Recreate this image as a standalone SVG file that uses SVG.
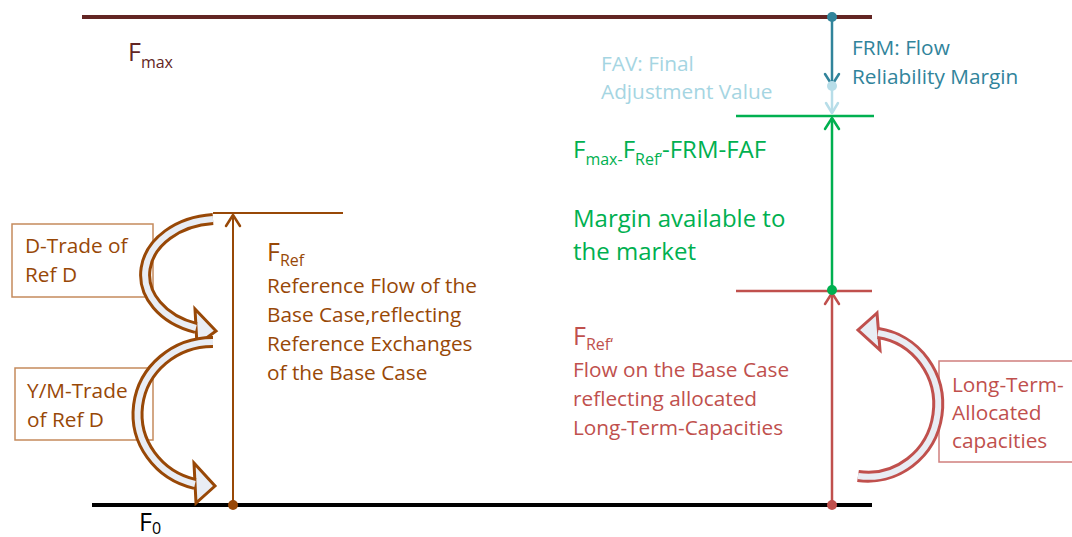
<svg xmlns="http://www.w3.org/2000/svg" width="1072" height="537" viewBox="0 0 1072 537">
<style>
text{font-family:"Open Sans","Noto Sans",sans-serif;}
.t19{font-size:20.8px;}
.big{font-size:25px;}
.sub{font-size:16px;}
.brown{fill:#984807;}
.red{fill:#c0504d;}
.green{fill:#00b050;}
.blue{fill:#31849b;}
.lblue{fill:#a5d5e2;}
.chev{fill:none;stroke-width:2.5;stroke-linecap:round;stroke-linejoin:round;}
.bandO{fill:none;stroke-width:12;}
.bandI{fill:none;stroke:#e9edf4;stroke-width:6;}
.head{fill:#e9edf4;stroke-width:3;stroke-linejoin:miter;}
</style>
<rect width="1072" height="537" fill="#ffffff"/>
<g id="box-dtrade">
  <rect x="12" y="224" width="141" height="73" fill="#ffffff" stroke="#c58a5c" stroke-width="1.5"/>
  <text class="t19 brown" x="25" y="253">D-Trade of</text>
  <text class="t19 brown" x="25" y="282">Ref D</text>
</g>
<g id="box-ymtrade">
  <rect x="15" y="368" width="138" height="72" fill="#ffffff" stroke="#c58a5c" stroke-width="1.5"/>
  <text class="t19 brown" x="27" y="398">Y/M-Trade</text>
  <text class="t19 brown" x="27" y="427">of Ref D</text>
</g>
<g id="box-longterm">
  <rect x="939" y="361" width="140" height="101" fill="#ffffff" stroke="#d07f7d" stroke-width="1.5"/>
  <text class="t19 red" x="952" y="392">Long-Term-</text>
  <text class="t19 red" x="952" y="420">Allocated</text>
  <text class="t19 red" x="952" y="448">capacities</text>
</g>
<g id="connectors">
  <line x1="82" y1="17" x2="872" y2="17" stroke="#632523" stroke-width="4"/>
  <line x1="92" y1="505" x2="872" y2="505" stroke="#000000" stroke-width="4"/>
  <line x1="736" y1="116" x2="874" y2="116" stroke="#00b050" stroke-width="2.5"/>
  <line x1="736" y1="291" x2="872" y2="291" stroke="#c0504d" stroke-width="2.5"/>
  <line x1="213" y1="213" x2="343" y2="213" stroke="#984807" stroke-width="2"/>
  <line x1="233" y1="505" x2="233" y2="215" stroke="#984807" stroke-width="2"/>
  <polyline class="chev" stroke="#984807" points="226,226 233,215 240,226"/>
  <circle cx="233" cy="505" r="5" fill="#984807"/>
  <line x1="832" y1="505" x2="832" y2="293" stroke="#c0504d" stroke-width="2.5"/>
  <polyline class="chev" stroke="#c0504d" points="825,304 832,293 839,304"/>
  <circle cx="832" cy="505" r="5" fill="#c0504d"/>
  <line x1="832" y1="290" x2="832" y2="118" stroke="#00b050" stroke-width="2.5"/>
  <polyline class="chev" stroke="#00b050" points="825,129 832,118 839,129"/>
  <circle cx="832" cy="290" r="5" fill="#00b050"/>
  <line x1="832" y1="17" x2="832" y2="85" stroke="#31849b" stroke-width="2.5"/>
  <polyline class="chev" stroke="#31849b" points="825,74 832,85 839,74"/>
  <circle cx="832" cy="17" r="5" fill="#31849b"/>
  <line x1="832" y1="86" x2="832" y2="113" stroke="#b7dde8" stroke-width="2.5"/>
  <polyline class="chev" stroke="#b7dde8" points="826,103 832,113 838,103"/>
  <circle cx="832" cy="86" r="5" fill="#b7dde8"/>
</g>
<g id="arc-dtrade">
  <polygon class="head" stroke="#984807" points="195,309 216,331 197,345"/>
  <path class="bandO" stroke="#984807" d="M213,219 A74,56 0 0 0 196,328"/>
  <path class="bandI" d="M213,219 A74,56 0 0 0 196,328"/>
</g>
<g id="arc-ymtrade">
  <polygon class="head" stroke="#984807" points="194,463 215,486 196,503"/>
  <path class="bandO" stroke="#984807" d="M213,342 A75,72 0 0 0 195,484"/>
  <path class="bandI" d="M213,342 A75,72 0 0 0 195,484"/>
</g>
<g id="arc-longterm">
  <polygon class="head" stroke="#c0504d" points="877,313 858,330 880,350"/>
  <path class="bandO" stroke="#c0504d" d="M858,476 A70,72 0 0 0 878,333"/>
  <path class="bandI" d="M858,476 A70,72 0 0 0 878,333"/>
</g>
<g id="fmax">
  <text x="128" y="61" style="fill:#632523"><tspan class="big">F</tspan><tspan class="sub" dy="7">max</tspan></text>
</g>
<g id="f0">
  <text x="139" y="531" style="fill:#000"><tspan class="big">F</tspan><tspan class="sub" dy="3">0</tspan></text>
</g>
<g id="frm">
  <text class="t19 blue" x="852" y="55">FRM: Flow</text>
  <text class="t19 blue" x="852" y="84">Reliability Margin</text>
</g>
<g id="fav">
  <text class="t19 lblue" x="601" y="71">FAV: Final</text>
  <text class="t19 lblue" x="601" y="99">Adjustment Value</text>
</g>
<g id="margin">
  <text class="green" x="573" y="158"><tspan style="font-size:24px">F</tspan><tspan style="font-size:16px" dy="7">max-</tspan><tspan style="font-size:24px" dy="-7">F</tspan><tspan style="font-size:16px" dy="7">Ref‘</tspan><tspan style="font-size:24px" dy="-7">-FRM-FAF</tspan></text>
  <text class="green" x="573" y="227" style="font-size:24px">Margin available to</text>
  <text class="green" x="573" y="260" style="font-size:24px">the market</text>
</g>
<g id="fref">
  <text class="brown" x="267" y="261"><tspan class="big">F</tspan><tspan class="sub" dy="5">Ref</tspan></text>
  <text class="t19 brown" x="267" y="293">Reference Flow of the</text>
  <text class="t19 brown" x="267" y="322">Base Case,reflecting</text>
  <text class="t19 brown" x="267" y="351">Reference Exchanges</text>
  <text class="t19 brown" x="267" y="380">of the Base Case</text>
</g>
<g id="frefprime">
  <text class="red" x="573" y="345"><tspan class="big">F</tspan><tspan class="sub" dy="5">Ref‘</tspan></text>
  <text class="t19 red" x="573" y="377">Flow on the Base Case</text>
  <text class="t19 red" x="573" y="406">reflecting allocated</text>
  <text class="t19 red" x="573" y="435">Long-Term-Capacities</text>
</g>
</svg>
